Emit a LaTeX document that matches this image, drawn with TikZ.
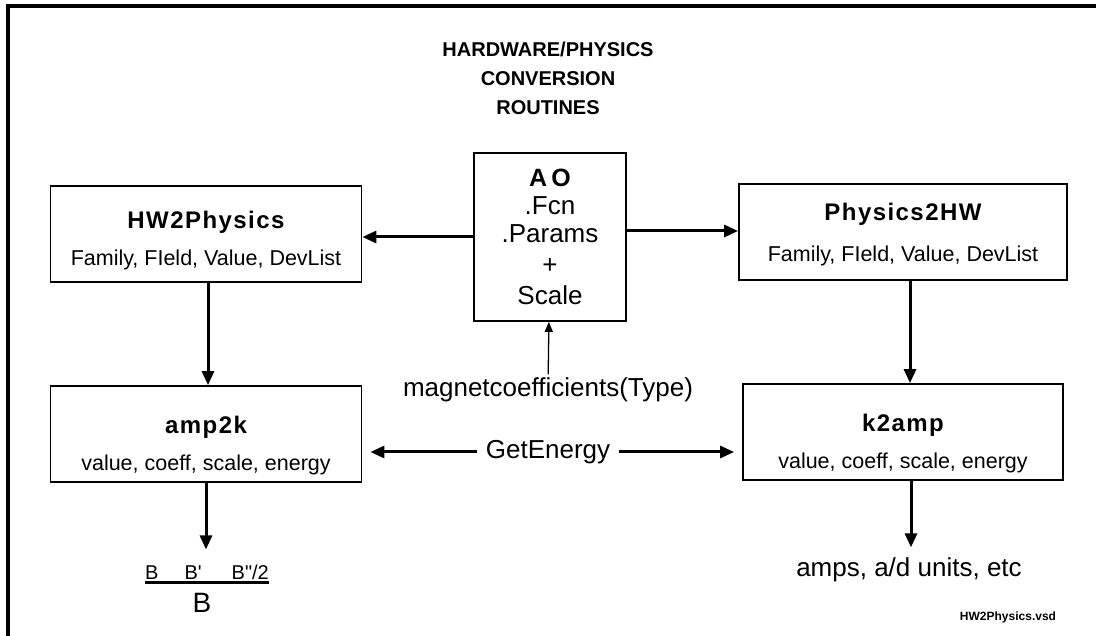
\documentclass[tikz,border=0pt]{standalone}
\usepackage{fontspec}
\setmainfont{Liberation Sans}
\usetikzlibrary{arrows.meta}

\newcommand{\headfont}{\bfseries\fontsize{24}{28}\selectfont\addfontfeature{LetterSpace=6}}

\begin{document}
\begin{tikzpicture}[
    x=1pt, y=-1pt,
    node distance=200pt,
    box/.style={rectangle, draw, line width=1.8pt, minimum height=96pt, align=center, inner sep=0pt, font=\fontsize{21.5}{30}\selectfont},
    label/.style={font=\fontsize{26}{30}\selectfont, inner xsep=9pt},
    arrow/.style={-{Triangle[length=14pt,width=12pt]}, line width=3pt},
    thinarrow/.style={-{Triangle[length=10pt,width=8pt]}, line width=1.3pt}
]
\useasboundingbox (0,0) rectangle (1096,636);
% Frame
\draw[line width=3.5pt] (8,636) -- (8,6) -- (1096,6);

% Title
\node[font=\bfseries\fontsize{20}{29}\selectfont, align=center] (title) at (548,78) {HARDWARE/PHYSICS\\CONVERSION\\ROUTINES};

% AO object
\node[box, minimum width=152pt, minimum height=168pt, font=\fontsize{26}{28}\selectfont] (ao) at (550,237)
    {{\bfseries\fontsize{25}{25}\selectfont A\,O}\\ .Fcn\\ .Params\\[3pt] +\\[3pt] Scale};

% Conversion boxes
\node[box, minimum width=311pt] (hw) at (206,234) {\rule{0pt}{30pt}{\headfont HW2Physics}\\[7pt] Family, FIeld, Value, DevList};
\node[box, minimum width=328pt] (phys) at (903,232) {\rule{0pt}{22pt}{\headfont Physics2HW}\\[11pt] Family, FIeld, Value, DevList};
\node[box, minimum width=311pt, below of=hw] (amp) {\rule{0pt}{40pt}{\headfont amp2k}\\[7pt] value, coeff, scale, energy};
\node[box, minimum width=320pt, below of=phys] (kamp) {\rule{0pt}{40pt}{\headfont k2amp}\\[7pt] value, coeff, scale, energy};

% Labels
\node[label] (coef) at (548,390) {magnetcoefficients(Type)};
\node[label] (energy) at (548,452) {GetEnergy};
\node[label] (amps) at (909,570) {amps, a/d units, etc};
\node[font=\fontsize{20}{24}\selectfont, inner xsep=0pt, inner ysep=3pt] (bnum) at (207,572)
    {B\hspace{26pt}B\textquotesingle\hspace{30pt}B\textquotedbl/2};
\node[font=\fontsize{28}{30}\selectfont, below of=bnum, node distance=31pt, xshift=-5pt] (bden) {B};
\node[font=\bfseries\fontsize{12}{14}\selectfont] (file) at (1008,617) {HW2Physics.vsd};

% Fraction bar
\draw[line width=3pt] (bnum.south west) -- (bnum.south east);

% Arrows from AO
\draw[arrow] (ao.west) -- (ao.west -| hw.east);
\draw[arrow] ([yshift=6pt]ao.east) -- ([yshift=6pt]ao.east -| phys.west);
\draw[thinarrow] (coef) -- (ao);

% Arrows down
\draw[arrow] ([xshift=2pt]hw.south) -- ([xshift=2pt]hw.south |- amp.north);
\draw[arrow] ([xshift=7pt]phys.south) -- ([xshift=7pt]phys.south |- kamp.north);
\draw[arrow, shorten >=12pt] (amp.south) -- (amp.south |- bnum.north);
\draw[arrow, shorten >=7pt] ([xshift=8pt]kamp.south) -- ([xshift=8pt]kamp.south |- amps.north);

% GetEnergy
\draw[arrow, shorten >=8pt] (energy.west) -- (energy.west -| amp.east);
\draw[arrow, shorten >=8pt] (energy.east) -- (energy.east -| kamp.west);
\end{tikzpicture}
\end{document}
